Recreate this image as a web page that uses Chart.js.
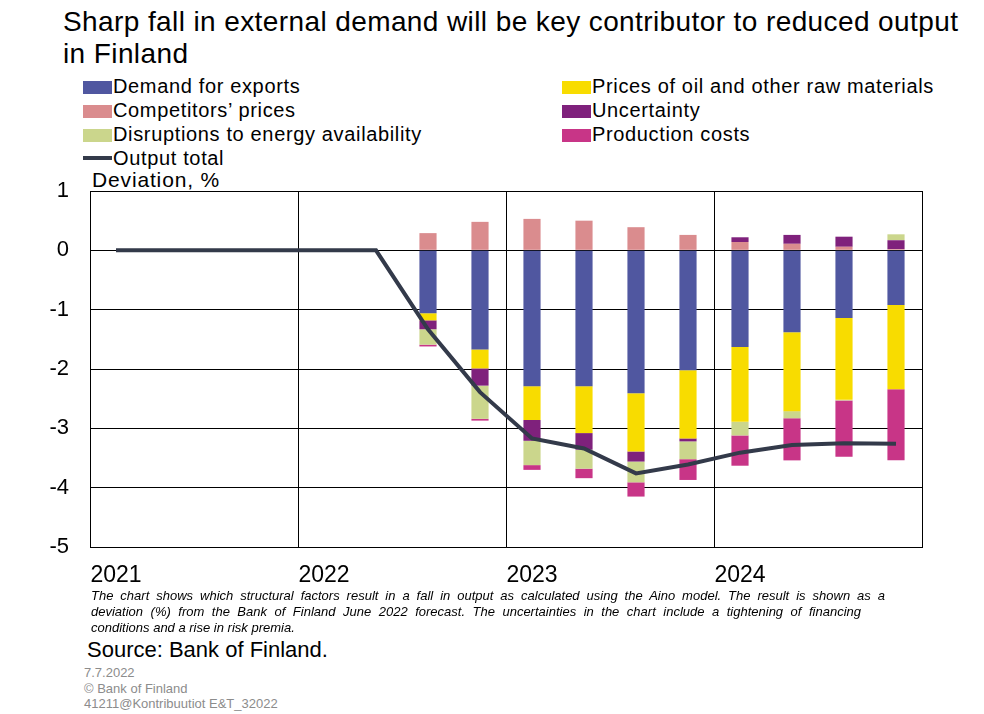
<!DOCTYPE html>
<html>
<head>
<meta charset="utf-8">
<script src="https://cdn.jsdelivr.net/npm/chart.js@4.4.1/dist/chart.umd.min.js"></script>
<style>
  body { margin: 0; background: #fff; font-family: "Liberation Sans", Arial, sans-serif; }
  #wrap { position: relative; width: 984px; height: 714px; overflow: hidden; }
  #chart { position: absolute; left: 0; top: 0; }
  .title { position: absolute; left: 63px; top: 6px; font-size: 28px; line-height: 31.6px; letter-spacing: 0.4px; color: #000; white-space: nowrap; }
  .legend { position: absolute; left: 83px; top: 74px; width: 880px; }
  .item { position: absolute; height: 24px; font-size: 20px; line-height: 24px; letter-spacing: 0.65px; white-space: nowrap; }
  .sw { display: inline-block; width: 29px; height: 13px; vertical-align: -1px; margin-right: 1px; }
  .ln { display: inline-block; width: 29px; height: 4px; vertical-align: 5px; margin-right: 1px; }
  .ylab { position: absolute; left: 92px; top: 168px; font-size: 21px; line-height: 24px; letter-spacing: 0.85px; }
  .note { position: absolute; left: 91px; top: 588px; font-size: 13px; line-height: 16px; font-style: italic; white-space: nowrap; }
  .note .j { text-align: justify; text-align-last: justify; white-space: normal; }
  .source { position: absolute; left: 87px; top: 637px; font-size: 22px; line-height: 26px; }
  .gray { position: absolute; left: 84px; top: 665px; font-size: 13px; line-height: 15.5px; color: #8c8c8c; }
</style>
</head>
<body>
<div id="wrap">
  <div class="title">Sharp fall in external demand will be key contributor to reduced output<br>in Finland</div>
  <div class="legend" id="legend"></div>
  <div class="ylab">Deviation, %</div>
  <canvas id="chart" width="984" height="600"></canvas>
  <div class="note">
    <div class="j" style="width:794px">The chart shows which structural factors result in a fall in output as calculated using the Aino model. The result is shown as a</div>
    <div class="j" style="width:770px">deviation (%) from the Bank of Finland June 2022 forecast. The uncertainties in the chart include a tightening of financing</div>
    <div>conditions and a rise in risk premia.</div>
  </div>
  <div class="source">Source: Bank of Finland.</div>
  <div class="gray">7.7.2022<br>© Bank of Finland<br>41211@Kontribuutiot E&amp;T_32022</div>
</div>
<script>
// Quarterly categories, 2021Q1 - 2024Q4
var quarters = ['2021Q1', '2021Q2', '2021Q3', '2021Q4',
                '2022Q1', '2022Q2', '2022Q3', '2022Q4',
                '2023Q1', '2023Q2', '2023Q3', '2023Q4',
                '2024Q1', '2024Q2', '2024Q3', '2024Q4'];
var yearLabels = ['2021', '2022', '2023', '2024'];
var yTicks = [1, 0, -1, -2, -3, -4, -5];

// Contributions, percentage points
var demandForExports   = [null, null, null, null, null, null, -1.06, -1.67, -2.29, -2.29, -2.41, -2.02, -1.63, -1.38, -1.14, -0.92];
var competitorsPrices  = [null, null, null, null, null, null, 0.29, 0.48, 0.53, 0.50, 0.39, 0.26, 0.14, 0.11, 0.06, 0.02];
var oilPrices          = [null, null, null, null, null, null, -0.12, -0.32, -0.57, -0.79, -0.98, -1.15, -1.26, -1.33, -1.38, -1.42];
var uncertainty        = [null, null, null, null, null, null, -0.15, -0.29, -0.35, -0.28, -0.17, -0.05, 0.08, 0.15, 0.17, 0.15];
var energyDisruptions  = [null, null, null, null, null, null, -0.26, -0.56, -0.41, -0.32, -0.35, -0.30, -0.23, -0.12, -0.01, 0.10];
var productionCosts    = [null, null, null, null, null, null, -0.03, -0.03, -0.08, -0.16, -0.24, -0.35, -0.51, -0.71, -0.95, -1.20];
var outputTotal        = [0, 0, 0, 0, 0, 0, -1.33, -2.39, -3.17, -3.34, -3.76, -3.61, -3.41, -3.28, -3.25, -3.26];

var colors = {
    demand: '#5057a0',
    competitors: '#da8c8e',
    oil: '#f8dc00',
    uncertainty: '#7f217c',
    energy: '#cbd68c',
    production: '#c83587',
    output: '#333a4a'
};

// Legend laid out in two columns like the original
var legendItems = [
    { label: 'Demand for exports', color: colors.demand, col: 0, row: 0 },
    { label: 'Competitors\u2019 prices', color: colors.competitors, col: 0, row: 1 },
    { label: 'Disruptions to energy availability', color: colors.energy, col: 0, row: 2 },
    { label: 'Output total', color: colors.output, col: 0, row: 3, line: true },
    { label: 'Prices of oil and other raw materials', color: colors.oil, col: 1, row: 0 },
    { label: 'Uncertainty', color: colors.uncertainty, col: 1, row: 1 },
    { label: 'Production costs', color: colors.production, col: 1, row: 2 }
];
var legendEl = document.getElementById('legend');
legendItems.forEach(function (it) {
    var d = document.createElement('div');
    d.className = 'item';
    d.style.left = (it.col * 479) + 'px';
    d.style.top = (it.row * 24) + 'px';
    d.innerHTML = '<span class="' + (it.line ? 'ln' : 'sw') + '" style="background:' + it.color + '"></span>' + it.label;
    legendEl.appendChild(d);
});

function bar(label, data, color) {
    return {
        type: 'bar',
        label: label,
        data: data,
        backgroundColor: color,
        borderWidth: 0,
        order: 1,
        categoryPercentage: 1,
        barPercentage: 0.33
    };
}

var ctx = document.getElementById('chart').getContext('2d');
new Chart(ctx, {
    data: {
        labels: quarters,
        datasets: [
            bar('Demand for exports', demandForExports, colors.demand),
            bar('Competitors\u2019 prices', competitorsPrices, colors.competitors),
            bar('Prices of oil and other raw materials', oilPrices, colors.oil),
            bar('Uncertainty', uncertainty, colors.uncertainty),
            bar('Disruptions to energy availability', energyDisruptions, colors.energy),
            bar('Production costs', productionCosts, colors.production),
            {
                type: 'line',
                label: 'Output total',
                data: outputTotal,
                borderColor: colors.output,
                borderWidth: 4,
                pointRadius: 0,
                tension: 0,
                order: 0
            }
        ]
    },
    options: {
        responsive: false,
        animation: false,
        layout: { padding: { left: 0, top: 191, right: 62, bottom: 0 } },
        plugins: { legend: { display: false }, tooltip: { enabled: false } },
        scales: {
            x: {
                stacked: true,
                z: 1,
                afterFit: function (s) { s.height = 53; },
                grid: {
                    offset: true,
                    drawTicks: false,
                    lineWidth: 1,
                    color: function (c) {
                        return (c.type !== 'tick' || c.index % 4 === 0) ? '#000' : 'rgba(0,0,0,0)';
                    }
                },
                border: { color: '#000', width: 1 },
                ticks: {
                    autoSkip: false,
                    maxRotation: 0,
                    padding: 15,
                    color: '#000',
                    font: { family: 'Liberation Sans', size: 23 },
                    callback: function (v, i) { return i % 4 === 0 ? yearLabels[i / 4] : ''; }
                }
            },
            y: {
                stacked: true,
                z: 1,
                min: yTicks[yTicks.length - 1],
                max: yTicks[0],
                afterFit: function (s) { s.width = 90; },
                afterBuildTicks: function (s) { s.ticks = yTicks.map(function (v) { return { value: v }; }); },
                grid: { color: '#000', lineWidth: 1, drawTicks: false },
                border: { color: '#000', width: 1 },
                ticks: {
                    padding: 21,
                    color: '#000',
                    font: { family: 'Liberation Sans', size: 22 }
                }
            }
        }
    }
});
</script>
</body>
</html>
